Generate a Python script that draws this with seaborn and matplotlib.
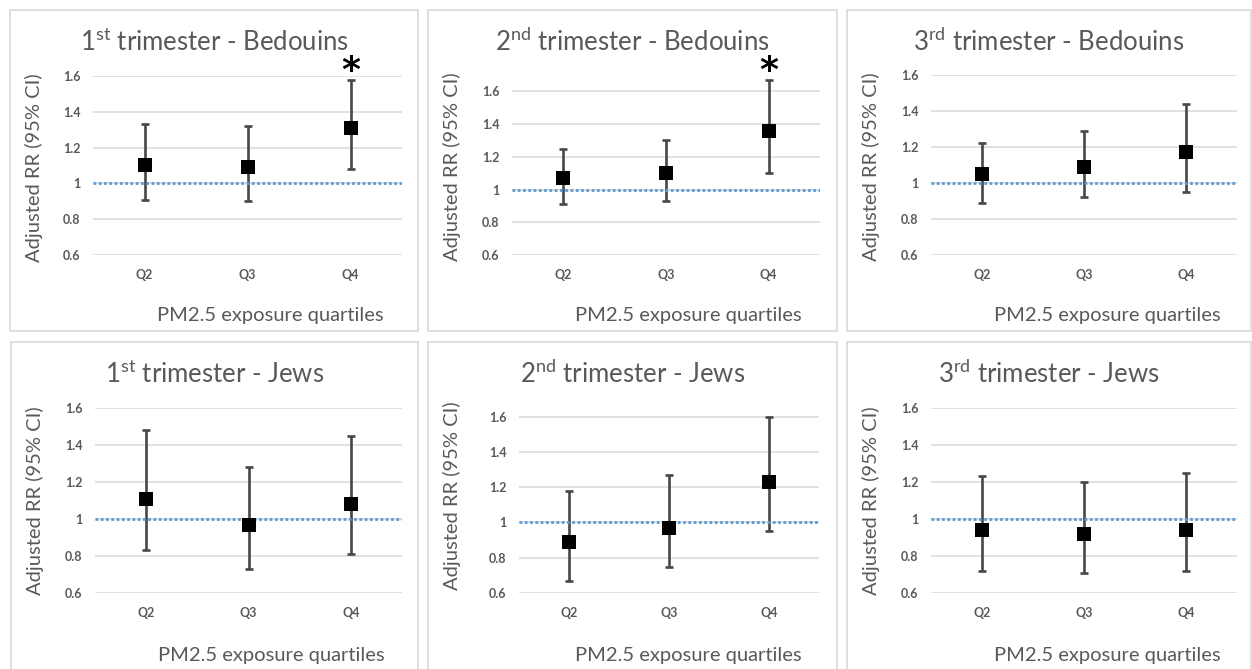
import numpy as np
import pandas as pd
import matplotlib

matplotlib.use("Agg")

import matplotlib.pyplot as plt
from matplotlib.patches import Rectangle
import seaborn as sns

# ---- data ----
quartiles = ["Q2", "Q3", "Q4"]
groups = ["Bedouins", "Jews"]
ordinals = ["1", "2", "3"]
suffixes = ["st", "nd", "rd"]

rr_bedouins = [[1.10, 1.09, 1.31], [1.07, 1.10, 1.36], [1.05, 1.09, 1.17]]
lo_bedouins = [[0.91, 0.90, 1.08], [0.91, 0.93, 1.10], [0.89, 0.92, 0.95]]
hi_bedouins = [[1.33, 1.32, 1.58], [1.25, 1.30, 1.67], [1.22, 1.29, 1.44]]
sig_bedouins = [[False, False, True], [False, False, True], [False, False, False]]

rr_jews = [[1.11, 0.97, 1.08], [0.89, 0.97, 1.23], [0.94, 0.92, 0.94]]
lo_jews = [[0.83, 0.73, 0.81], [0.67, 0.75, 0.95], [0.72, 0.71, 0.72]]
hi_jews = [[1.48, 1.28, 1.45], [1.18, 1.27, 1.60], [1.23, 1.20, 1.25]]
sig_jews = [[False] * 3, [False] * 3, [False] * 3]

y_ticks = [0.6, 0.8, 1.0, 1.2, 1.4, 1.6]
y_ticklabels = ["0.6", "0.8", "1", "1.2", "1.4", "1.6"]
y_top = {("Bedouins", 1): 1.7, ("Jews", 1): 1.7}

rows = []
for group, rr, lo, hi, sig in [("Bedouins", rr_bedouins, lo_bedouins, hi_bedouins, sig_bedouins),
                               ("Jews", rr_jews, lo_jews, hi_jews, sig_jews)]:
    for t in range(3):
        for q, quart in enumerate(quartiles):
            rows.append(dict(group=group, trim=t, quartile=quart, rr=rr[t][q],
                             lo=lo[t][q], hi=hi[t][q], sig=sig[t][q]))
df = pd.DataFrame(rows)

# ---- style ----
sns.set_theme(style="white")
plt.rcParams["font.family"] = ["Lato", "DejaVu Sans"]
plt.rcParams["mathtext.fontset"] = "custom"
plt.rcParams["mathtext.rm"] = "Lato"
GRAY = "#595959"

W, H = 1252, 669
fig = plt.figure(figsize=(W / 100, H / 100), dpi=100)
fig.patch.set_facecolor("white")

# panel layout in pixels: box (left, top, right, bottom), axes (left, top, right, bottom)
boxes = [[(10, 10, 418, 331), (428, 10, 837, 331), (847, 10, 1251, 331)],
         [(11, 342, 418, 672), (428, 342, 837, 672), (847, 342, 1251, 672)]]
axes_px = [[(93, 76, 402, 255), (512, 75, 820, 255), (931, 75, 1237, 255)],
           [(95, 408, 402, 593), (519, 399, 819, 593), (931, 408, 1237, 593)]]
xlabel_y = [315, 655]


def fx(x):
    return x / W


def fy(y):
    return 1 - y / H


for r, group in enumerate(groups):
    for t in range(3):
        bl, bt, br, bb = boxes[r][t]
        fig.add_artist(Rectangle((fx(bl), fy(bb)), fx(br - bl), (bb - bt) / H,
                                 transform=fig.transFigure, fill=False,
                                 ec="#D9D9D9", lw=1.2))
        al, at, ar, ab = axes_px[r][t]
        ax = fig.add_axes([fx(al), fy(ab), fx(ar - al), (ab - at) / H])
        sub = df[(df.group == group) & (df.trim == t)]

        ax.errorbar(sub["quartile"], sub["rr"],
                    yerr=[sub["rr"] - sub["lo"], sub["hi"] - sub["rr"]],
                    fmt="none", ecolor="#474747", elinewidth=1.9,
                    capsize=2.8, capthick=1.9, zorder=2)
        ax.axhline(1, color="#5B9BD5", lw=2.0, ls=(0, (1, 0.9)), zorder=3)
        sns.scatterplot(data=sub, x="quartile", y="rr", marker="s", color="black",
                        s=100, linewidth=0, ax=ax, zorder=4)

        for _, row in sub[sub.sig].iterrows():
            ax.annotate("*", xy=(row["quartile"], row["hi"]), xytext=(0, -6),
                        textcoords="offset points", ha="center", va="bottom",
                        fontsize=26, fontweight="bold", color="black",
                        family="DejaVu Sans", annotation_clip=False)

        ax.set_xlim(-0.5, 2.5)
        ax.set_ylim(0.6, y_top.get((group, t), 1.6))
        ax.set_yticks(y_ticks)
        ax.set_yticklabels(y_ticklabels)
        ax.grid(axis="y", color="#D9D9D9", lw=1.1)
        ax.grid(axis="x", visible=False)
        ax.set_axisbelow(True)
        for s in ax.spines.values():
            s.set_visible(False)
        ax.tick_params(axis="both", length=0, labelsize=9, labelcolor=GRAY)
        ax.tick_params(axis="y", pad=9)
        ax.tick_params(axis="x", pad=10)
        for lab in ax.get_xticklabels() + ax.get_yticklabels():
            lab.set_fontweight("bold")
        ax.set_xlabel("")
        ax.set_ylabel("")

        title = f"{ordinals[t]}$^{{\\mathrm{{{suffixes[t]}}}}}$ trimester - {group}"
        fig.text(fx((bl + br) / 2), fy(bt + 32), title, ha="center", va="center",
                 fontsize=18.5, color=GRAY)
        fig.text(fx(bl + 24), fy((at + ab) / 2 + (2 if r == 0 else 0)),
                 "Adjusted RR (95% CI)", rotation=90, ha="center", va="center",
                 fontsize=14.5, color=GRAY)
        fig.text(fx(bl + 260), fy(xlabel_y[r]), "PM2.5 exposure quartiles",
                 ha="center", va="center", fontsize=14.5, color=GRAY)

fig.savefig("out.png", dpi=100, facecolor="white")
